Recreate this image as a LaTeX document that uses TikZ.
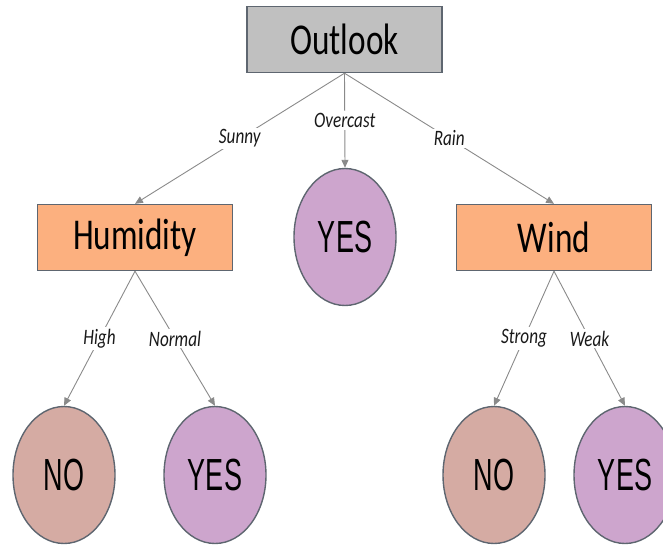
\documentclass[tikz,border=0pt]{standalone}
\usepackage{fontspec}
\usetikzlibrary{arrows.meta}
\newfontfamily\boxfont[FakeStretch=0.755]{Carlito}
\newfontfamily\edgefont[FakeStretch=0.78]{Carlito}
\newfontfamily\leaffont[FakeStretch=0.6]{Liberation Sans}
\definecolor{boxgray}{HTML}{C0C0C0}
\definecolor{attr}{HTML}{FCB07F}
\definecolor{nofill}{HTML}{D5ABA3}
\definecolor{yesfill}{HTML}{CDA5CD}
\definecolor{rim}{HTML}{5E6670}
\definecolor{wire}{HTML}{8A8A8A}
\tikzset{
  attrbox/.style={draw=rim, line width=1.4pt, minimum width=195pt, minimum height=66pt,
    inner sep=0pt, font=\boxfont\fontsize{44}{44}\selectfont},
  leaf/.style={ellipse, draw=rim, line width=1.4pt, minimum width=102pt, minimum height=137pt,
    inner sep=0pt, font=\leaffont\fontsize{45}{45}\selectfont},
  branch/.style={draw=wire, line width=0.9pt, -{Triangle[length=8pt,width=7pt]}},
  cond/.style={fill=white, inner sep=2pt, font=\edgefont\itshape\fontsize{22}{22}\selectfont, text=black!90},
}
\usetikzlibrary{shapes.geometric}
\begin{document}
\begin{tikzpicture}[x=1pt, y=-1pt]
  \useasboundingbox (0,0) rectangle (663,545);
  \clip (0,0) rectangle (663,545);

  % attribute nodes
  \node[attrbox, fill=boxgray] (outlook)  at (344.5,39.5) {Outlook};
  \node[attrbox, fill=attr]    (humidity) at (135,237.5)  {Humidity};
  \node[attrbox, fill=attr]    (wind)     at (554,237.5)  {Wind};

  % leaves
  \node[leaf, fill=yesfill] (overcast) at (345,237) {YES};
  \node[leaf, fill=nofill]  (hno)      at (64,475)  {NO};
  \node[leaf, fill=yesfill] (hyes)     at (215,475) {YES};
  \node[leaf, fill=nofill]  (wno)      at (494,475) {NO};
  \node[leaf, fill=yesfill] (wyes)     at (625,475) {YES};

  % branches
  \draw[branch] (outlook.south) -- node[cond] {Sunny}    (humidity.north);
  \draw[branch] (outlook.south) -- node[cond] {Overcast} (overcast.north);
  \draw[branch] (outlook.south) -- node[cond] {Rain}     (wind.north);

  \draw[branch] (humidity.south) -- node[cond] {High}   (hno.north);
  \draw[branch] (humidity.south) -- node[cond] {Normal} (hyes.north);

  \draw[branch] (wind.south) -- node[cond] {Strong} (wno.north);
  \draw[branch] (wind.south) -- node[cond] {Weak}   (wyes.north);
\end{tikzpicture}
\end{document}
